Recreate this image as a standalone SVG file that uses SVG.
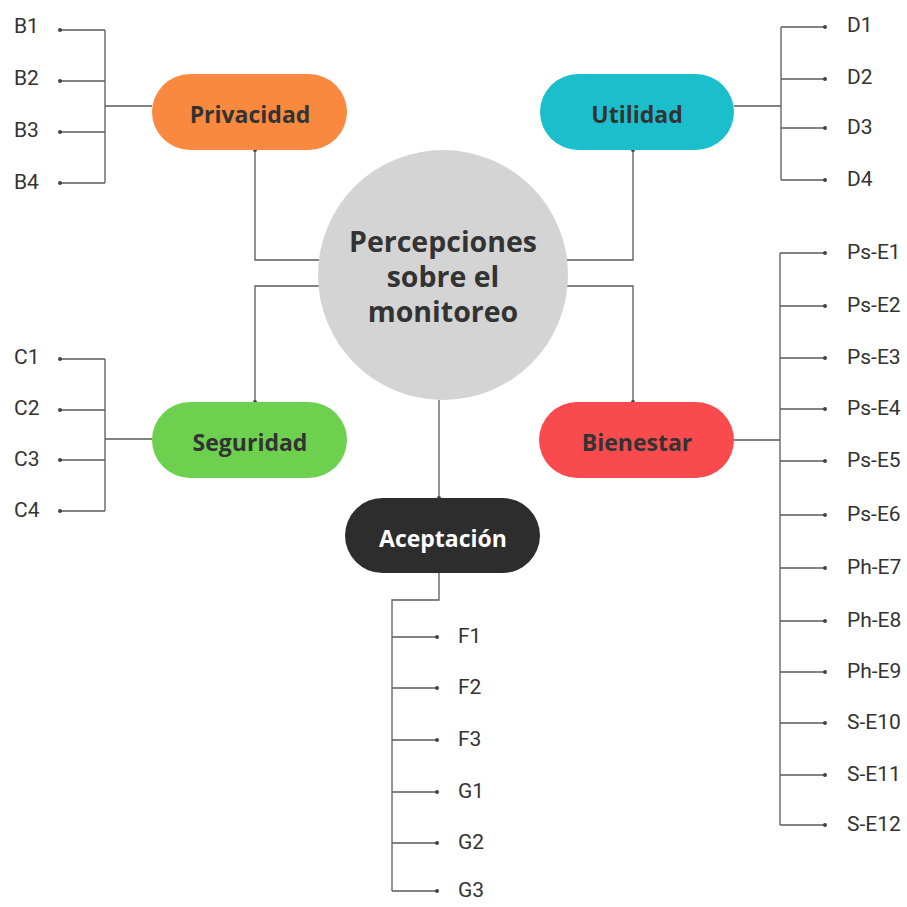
<svg xmlns="http://www.w3.org/2000/svg" width="907" height="907" viewBox="0 0 907 907">
  <style>
    .ln { fill: none; stroke: #5a5a5a; stroke-width: 1.3; }
    .dot { fill: #444; }
    .leaf { font-family: Roboto, "Liberation Sans", sans-serif; font-size: 21px; fill: #333; }
    .pill-t { font-family: "Open Sans", "Liberation Sans", sans-serif; font-size: 23px; font-weight: 700; fill: #333; text-anchor: middle; }
    .hub-t { font-family: "Open Sans", "Liberation Sans", sans-serif; font-size: 28.5px; font-weight: 700; fill: #333; text-anchor: middle; }
  </style>
  <rect width="907" height="907" fill="#ffffff"/>

  <!-- connectors -->
  <g id="connectors">
    <!-- hub to categories -->
    <path class="ln" d="M320 260 H255 V150"/>
    <path class="ln" d="M320 286 H255 V402"/>
    <path class="ln" d="M567 260 H633 V150"/>
    <path class="ln" d="M567 286 H633 V402"/>
    <path class="ln" d="M439 400 V498"/>
    <!-- Privacidad items -->
    <path class="ln" d="M152 106 H105 M105 30 V183 M105 30 H60 M105 81 H60 M105 132 H60 M105 183 H60"/>
    <!-- Seguridad items -->
    <path class="ln" d="M152 439 H105 M105 359 V511 M105 359 H60 M105 410 H60 M105 460 H60 M105 511 H60"/>
    <!-- Utilidad items -->
    <path class="ln" d="M734 106 H781 M781 27 V180 M781 27 H825 M781 79 H825 M781 128 H825 M781 180 H825"/>
    <!-- Bienestar items -->
    <path class="ln" d="M734 440 H780 M780 253 V825 M780 253 H825 M780 306 H825 M780 358 H825 M780 409 H825 M780 461 H825 M780 515 H825 M780 568 H825 M780 621 H825 M780 672 H825 M780 723 H825 M780 775 H825 M780 825 H825"/>
    <!-- Aceptación items -->
    <path class="ln" d="M439 573 V600 H392 V891 M392 637 H437 M392 688 H437 M392 740 H437 M392 792 H437 M392 843 H437 M392 891 H437"/>
    <!-- end dots -->
    <g class="dot">
      <circle cx="255" cy="150" r="2"/><circle cx="255" cy="402" r="2"/>
      <circle cx="633" cy="150" r="2"/><circle cx="633" cy="402" r="2"/>
      <circle cx="439" cy="498" r="2"/>
      <circle cx="60" cy="30" r="2"/><circle cx="60" cy="81" r="2"/><circle cx="60" cy="132" r="2"/><circle cx="60" cy="183" r="2"/>
      <circle cx="60" cy="359" r="2"/><circle cx="60" cy="410" r="2"/><circle cx="60" cy="460" r="2"/><circle cx="60" cy="511" r="2"/>
      <circle cx="825" cy="27" r="2"/><circle cx="825" cy="79" r="2"/><circle cx="825" cy="128" r="2"/><circle cx="825" cy="180" r="2"/>
      <circle cx="825" cy="253" r="2"/><circle cx="825" cy="306" r="2"/><circle cx="825" cy="358" r="2"/><circle cx="825" cy="409" r="2"/>
      <circle cx="825" cy="461" r="2"/><circle cx="825" cy="515" r="2"/><circle cx="825" cy="568" r="2"/><circle cx="825" cy="621" r="2"/>
      <circle cx="825" cy="672" r="2"/><circle cx="825" cy="723" r="2"/><circle cx="825" cy="775" r="2"/><circle cx="825" cy="825" r="2"/>
      <circle cx="437" cy="637" r="2"/><circle cx="437" cy="688" r="2"/><circle cx="437" cy="740" r="2"/>
      <circle cx="437" cy="792" r="2"/><circle cx="437" cy="843" r="2"/><circle cx="437" cy="891" r="2"/>
    </g>
  </g>

  <!-- central hub -->
  <g id="hub">
    <circle cx="443" cy="275" r="125" fill="#d4d4d4"/>
    <text class="hub-t" x="443" y="252">Percepciones</text>
    <text class="hub-t" x="443" y="287">sobre el</text>
    <text class="hub-t" x="443" y="322">monitoreo</text>
  </g>

  <g id="privacidad">
    <rect x="152" y="74" width="195" height="76" rx="38" fill="#f8893f"/>
    <text class="pill-t" x="250" y="123">Privacidad</text>
  </g>
  <g id="utilidad">
    <rect x="540" y="74" width="194" height="76" rx="38" fill="#1bbfcb"/>
    <text class="pill-t" x="637" y="123">Utilidad</text>
  </g>
  <g id="seguridad">
    <rect x="152" y="402" width="195" height="76" rx="38" fill="#6dd14f"/>
    <text class="pill-t" x="250" y="451">Seguridad</text>
  </g>
  <g id="bienestar">
    <rect x="539" y="402" width="195" height="76" rx="38" fill="#f94b4e"/>
    <text class="pill-t" x="637" y="451">Bienestar</text>
  </g>
  <g id="aceptacion">
    <rect x="345" y="498" width="195" height="75" rx="37.5" fill="#2d2d2d"/>
    <text class="pill-t" x="443" y="547" style="fill:#ffffff">Aceptación</text>
  </g>

  <!-- item labels -->
  <g id="items-b">
    <text class="leaf" x="14" y="33">B1</text>
    <text class="leaf" x="14" y="85">B2</text>
    <text class="leaf" x="14" y="137">B3</text>
    <text class="leaf" x="14" y="189">B4</text>
  </g>
  <g id="items-c">
    <text class="leaf" x="14" y="364">C1</text>
    <text class="leaf" x="14" y="415">C2</text>
    <text class="leaf" x="14" y="466">C3</text>
    <text class="leaf" x="14" y="517">C4</text>
  </g>
  <g id="items-d">
    <text class="leaf" x="847" y="32">D1</text>
    <text class="leaf" x="847" y="84">D2</text>
    <text class="leaf" x="847" y="134">D3</text>
    <text class="leaf" x="847" y="186">D4</text>
  </g>
  <g id="items-e">
    <text class="leaf" x="847" y="259">Ps-E1</text>
    <text class="leaf" x="847" y="312">Ps-E2</text>
    <text class="leaf" x="847" y="364">Ps-E3</text>
    <text class="leaf" x="847" y="415">Ps-E4</text>
    <text class="leaf" x="847" y="467">Ps-E5</text>
    <text class="leaf" x="847" y="521">Ps-E6</text>
    <text class="leaf" x="847" y="574">Ph-E7</text>
    <text class="leaf" x="847" y="627">Ph-E8</text>
    <text class="leaf" x="847" y="678">Ph-E9</text>
    <text class="leaf" x="847" y="729">S-E10</text>
    <text class="leaf" x="847" y="781">S-E11</text>
    <text class="leaf" x="847" y="831">S-E12</text>
  </g>
  <g id="items-fg">
    <text class="leaf" x="458" y="643">F1</text>
    <text class="leaf" x="458" y="694">F2</text>
    <text class="leaf" x="458" y="746">F3</text>
    <text class="leaf" x="458" y="798">G1</text>
    <text class="leaf" x="458" y="849">G2</text>
    <text class="leaf" x="458" y="897">G3</text>
  </g>
</svg>
